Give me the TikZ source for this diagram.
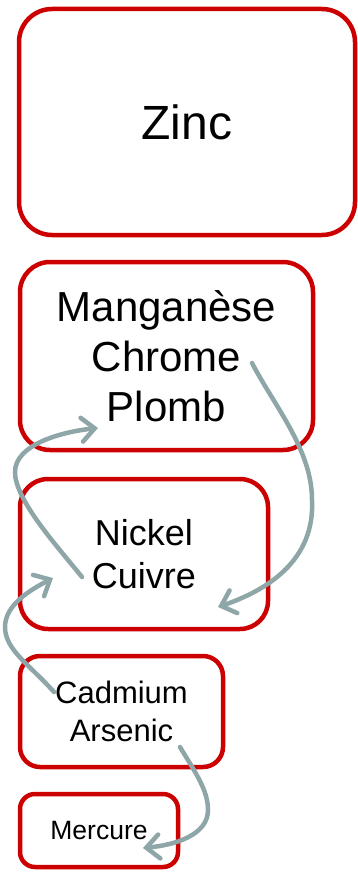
\documentclass[tikz,border=0pt]{standalone}
\usepackage{fontspec}
\setmainfont{Liberation Sans}
\usetikzlibrary{arrows.meta}
\definecolor{boxred}{HTML}{CC0000}
\definecolor{arrgray}{HTML}{8EA6A8}
\tikzset{
  metalbox/.style={draw=boxred, line width=4.5pt, fill=white, inner sep=0pt, align=center, font=\sffamily},
  flow/.style={draw=arrgray, line width=4.5pt, line cap=round, -{Straight Barb[length=13pt,width=24pt,line cap=round]}},
}
\begin{document}
\begin{tikzpicture}[x=1pt,y=-1pt]
\useasboundingbox (0,0) rectangle (357,872);
\node[metalbox, rounded corners=33pt, minimum width=336pt, minimum height=226pt, font=\fontsize{48}{57}\selectfont] (zn) at (187,122) {Zinc};
\node[metalbox, rounded corners=30pt, minimum width=293pt, minimum height=188pt, font=\fontsize{42}{50}\selectfont] (mn) at (166.5,356) {Manganèse\\Chrome\\Plomb};
\node[metalbox, rounded corners=28pt, minimum width=248pt, minimum height=150pt, font=\fontsize{36}{43.5}\selectfont] (ni) at (144,554) {Nickel\\Cuivre};
\node[metalbox, rounded corners=20pt, minimum width=203pt, minimum height=111pt, font=\fontsize{31}{37.7}\selectfont] (cd) at (121.5,711.5) {Cadmium\\Arsenic};
\node[metalbox, rounded corners=15pt, minimum width=158pt, minimum height=73pt, font=\fontsize{26.5}{32}\selectfont] (hg) at (99,830.5) {Mercure};
% arrow ends
\coordinate (a1s) at (252,363);
\coordinate (a1m) at (312,500);
\coordinate (a1e) at (218,607);
\coordinate (a2s) at (82,577);
\coordinate (a2m) at (15,472);
\coordinate (a2e) at (98,428);
\coordinate (a3s) at (54,692);
\coordinate (a3m) at (5,627);
\coordinate (a3e) at (53,578);
\coordinate (a4s) at (180,747);
\coordinate (a4m) at (208,810);
\coordinate (a4e) at (143,848);
\draw[flow] (a1s) .. controls (275,407) and (312,450) .. (a1m) .. controls (315,560) and (268,590) .. (a1e);
\draw[flow] (a2s) .. controls (57,546) and (15,500) .. (a2m) .. controls (15,445) and (60,432) .. (a2e);
\draw[flow] (a3s) .. controls (30,665) and (5,650) .. (a3m) .. controls (5,605) and (30,590) .. (a3e);
\draw[flow] (a4s) .. controls (195,772) and (208,790) .. (a4m) .. controls (208,835) and (175,845) .. (a4e);
\end{tikzpicture}
\end{document}
